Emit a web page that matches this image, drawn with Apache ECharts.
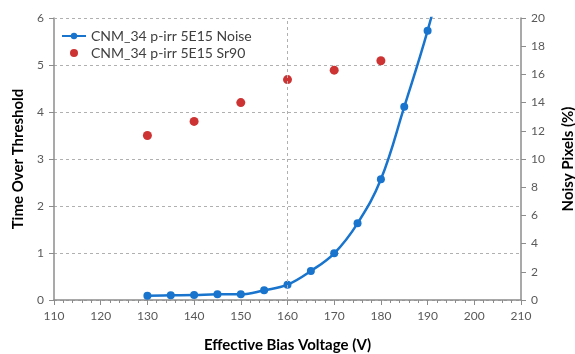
<!DOCTYPE html>
<html><head><meta charset="utf-8">
<script src="https://cdn.jsdelivr.net/npm/echarts@6/dist/echarts.min.js"></script>
<style>html,body{margin:0;padding:0;background:#fff}#c{width:575px;height:354px}</style>
</head><body><div id="c"></div>
<script>
var noiseVoltage = [130, 135, 140, 145, 150, 155, 160, 165, 170, 175, 180, 185, 190, 195];
var noisyPixels = [0.30, 0.33, 0.35, 0.40, 0.40, 0.69, 1.09, 2.06, 3.31, 5.44, 8.56, 13.7, 19.1, 25.5];
var sr90Voltage = [130, 140, 150, 160, 170, 180];
var timeOverThreshold = [3.50, 3.80, 4.20, 4.69, 4.89, 5.09];
var noiseName = 'CNM_34 p-irr 5E15 Noise';
var sr90Name = 'CNM_34 p-irr 5E15 Sr90';

var FONT = 'Lato';
var chart = echarts.init(document.getElementById('c'));
chart.setOption({
  animation: false,
  textStyle: {fontFamily: FONT},
  grid: {left: 54, right: 54, top: 18, bottom: 54, containLabel: false, outerBoundsMode: 'none'},
  legend: {
    left: 56, top: 24, orient: 'vertical', itemGap: 3, itemWidth: 24, itemHeight: 8,
    textStyle: {fontFamily: FONT, fontSize: 14, color: '#404040'},
    data: [noiseName, sr90Name]
  },
  xAxis: {
    type: 'value', min: 110, max: 210, interval: 10,
    axisLine: {lineStyle: {color: '#8c8c8c', width: 1.5}},
    axisTick: {show: true, length: 5, lineStyle: {color: '#8c8c8c'}},
    minorTick: {show: true, splitNumber: 5, length: 3, lineStyle: {color: '#8c8c8c'}},
    splitLine: {show: false},
    axisLabel: {color: '#595959', fontSize: 12, margin: 10, fontFamily: FONT},
    name: 'Effective Bias Voltage (V)', nameLocation: 'middle', nameGap: 38,
    nameTextStyle: {fontWeight: 'bold', fontSize: 15, color: '#000', fontFamily: FONT}
  },
  yAxis: [{
    type: 'value', min: 0, max: 6, interval: 1,
    axisLine: {show: true, lineStyle: {color: '#8c8c8c', width: 1.5}},
    axisTick: {show: true, length: 5, lineStyle: {color: '#8c8c8c'}},
    splitLine: {show: true, lineStyle: {color: '#b0b0b0', type: [3, 3]}},
    axisLabel: {color: '#595959', fontSize: 12, margin: 10, fontFamily: FONT},
    name: 'Time Over Threshold', nameLocation: 'middle', nameGap: 27, nameRotate: 90,
    nameTextStyle: {fontWeight: 'bold', fontSize: 15, color: '#000', fontFamily: FONT}
  }, {
    type: 'value', min: 0, max: 20, interval: 2, position: 'right',
    axisLine: {show: true, lineStyle: {color: '#8c8c8c', width: 1.5}},
    axisTick: {show: true, length: 5, lineStyle: {color: '#8c8c8c'}},
    splitLine: {show: false},
    axisLabel: {color: '#595959', fontSize: 12, margin: 10, fontFamily: FONT},
    name: 'Noisy Pixels (%)', nameLocation: 'middle', nameGap: 40, nameRotate: 90,
    nameTextStyle: {fontWeight: 'bold', fontSize: 15, color: '#000', fontFamily: FONT}
  }],
  series: [{
    name: noiseName, type: 'line', yAxisIndex: 1, clip: true,
    smooth: 0.4,
    data: noiseVoltage.map(function (v, i) { return [v, noisyPixels[i]]; }),
    symbol: 'circle', symbolSize: 8,
    lineStyle: {color: '#1874cd', width: 2.5},
    itemStyle: {color: '#1874cd'},
    markLine: {
      silent: true, symbol: 'none', label: {show: false},
      lineStyle: {color: '#b0b0b0', type: [3, 3], width: 1},
      data: [{xAxis: 160}, {yAxis: 20}]
    }
  }, {
    name: sr90Name, type: 'scatter', yAxisIndex: 0,
    data: sr90Voltage.map(function (v, i) { return [v, timeOverThreshold[i]]; }),
    symbol: 'circle', symbolSize: 9,
    itemStyle: {color: '#c00000'}
  }]
});
</script></body></html>
